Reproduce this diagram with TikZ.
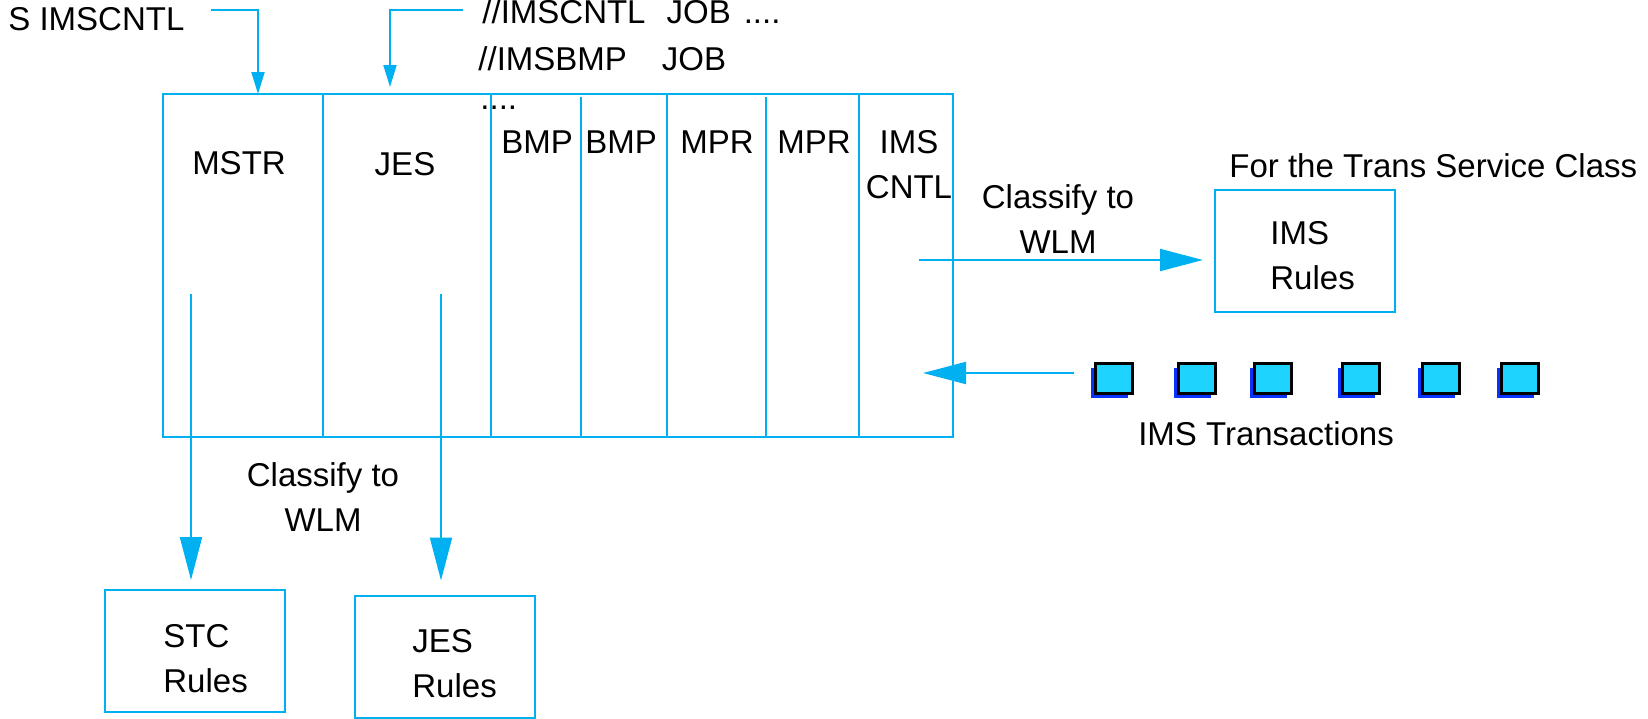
\documentclass[tikz,border=0pt]{standalone}
\usepackage{fontspec}
\setmainfont{Liberation Sans}
\usepackage{tikz}
\usetikzlibrary{arrows.meta,shadows}
\definecolor{wlmcyan}{RGB}{0,176,240}
\definecolor{txcyan}{RGB}{31,211,255}
\definecolor{txblue}{RGB}{10,50,255}
\tikzset{
 lbl/.style={font=\fontsize{16.5}{22.5}\selectfont,inner sep=0pt},
 part/.style={draw=wlmcyan,line width=1pt},
 flow/.style={part,-{Triangle[length=21.5pt,width=11pt]}},
 flowsmall/.style={part,-{Triangle[length=11pt,width=6.5pt]}},
 rulebox/.style={part,minimum width=90pt,minimum height=61pt,inner sep=0pt},
 txsq/.style={draw=black,line width=1.5pt,fill=txcyan,minimum width=18.5pt,minimum height=15pt,inner sep=0pt,
  general shadow={shadow xshift=-2pt,shadow yshift=-2pt,fill=txblue}}
}
\begin{document}
\begin{tikzpicture}[x=0.5pt,y=-0.5pt]
\useasboundingbox (0,0) rectangle (1648,718);
% address spaces
\node[part,minimum width=395pt,minimum height=171.5pt,inner sep=0pt] (region) at (558,265.5) {};
\foreach \dx in {323,491,667,859} \draw[part](\dx,94)--(\dx,437);
\foreach \dx in {581,766} \draw[part](\dx,97)--(\dx,437);
\node[lbl](mstr) at(239,163){MSTR};\node[lbl](jes) at(405,164){JES};
\node[lbl](bmpa) at(537,142){BMP};\node[lbl](bmpb) at(621,142){BMP};
\node[lbl](mpra) at(717,142){MPR};\node[lbl](mprb) at(814,142){MPR};
\node[lbl,align=center](imscntl) at(909,165){IMS\\CNTL};
\node[lbl,anchor=base west](dots) at(480,109){....};
% start command and job cards
\node[lbl,anchor=base west](startcmd) at(8,30){S IMSCNTL};
\node[lbl,anchor=base west](jobcntl) at(482,23){//IMSCNTL\hspace{10.5pt}JOB\hspace{6.5pt}....};
\node[lbl,anchor=base west](jobbmp) at(478,70){//IMSBMP\hspace{17.5pt}JOB};
\coordinate(cmdend) at(211,10);\coordinate(mstrin) at(258,94);
\draw[flowsmall](cmdend)-|(mstrin);
\coordinate(jobend) at(463,10);\coordinate(jesin) at(390,87);
\draw[flowsmall](jobend)-|(jesin);
% classification of the address spaces
\node[rulebox](stc) at(195,651){};\node[lbl,align=left,anchor=west](stctxt) at(163,658.5){STC\\Rules};
\node[rulebox](jesrules) at(444.5,656.5){};\node[lbl,align=left,anchor=west](jestxt) at(412,663.5){JES\\Rules};
\coordinate(mstrout) at(191,294);\coordinate(jesout) at(441,294);
\draw[flow,shorten >=4.5pt](mstrout)--(mstrout|-stc.north);
\draw[flow,shorten >=7pt](jesout)--(jesout|-jesrules.north);
\node[lbl,align=center](clsjes) at(323,497.5){Classify to\\WLM};
% transactions
\node[rulebox](imsrules) at(1305,251){};\node[lbl,align=left,anchor=west](imstxt) at(1270,256){IMS\\Rules};
\node[lbl,anchor=base west](transcls) at(1229,177){For the Trans Service Class};
\coordinate(cntlout) at(919,260);
\draw[flow,shorten >=5.5pt](cntlout)--(cntlout-|imsrules.west);
\node[lbl,align=center](clsims) at(1058,219.5){Classify to\\WLM};
\foreach \sx [count=\i] in {1113.5,1196.5,1272.5,1360.5,1440.5,1519.5} \node[txsq](tx\i) at(\sx,378.5){};
\coordinate(txin) at(923,373);
\draw[flow,shorten <=10pt](tx1.west|-txin)--(txin);
\node[lbl](txlabel) at(1266,434){IMS Transactions};
\end{tikzpicture}
\end{document}
